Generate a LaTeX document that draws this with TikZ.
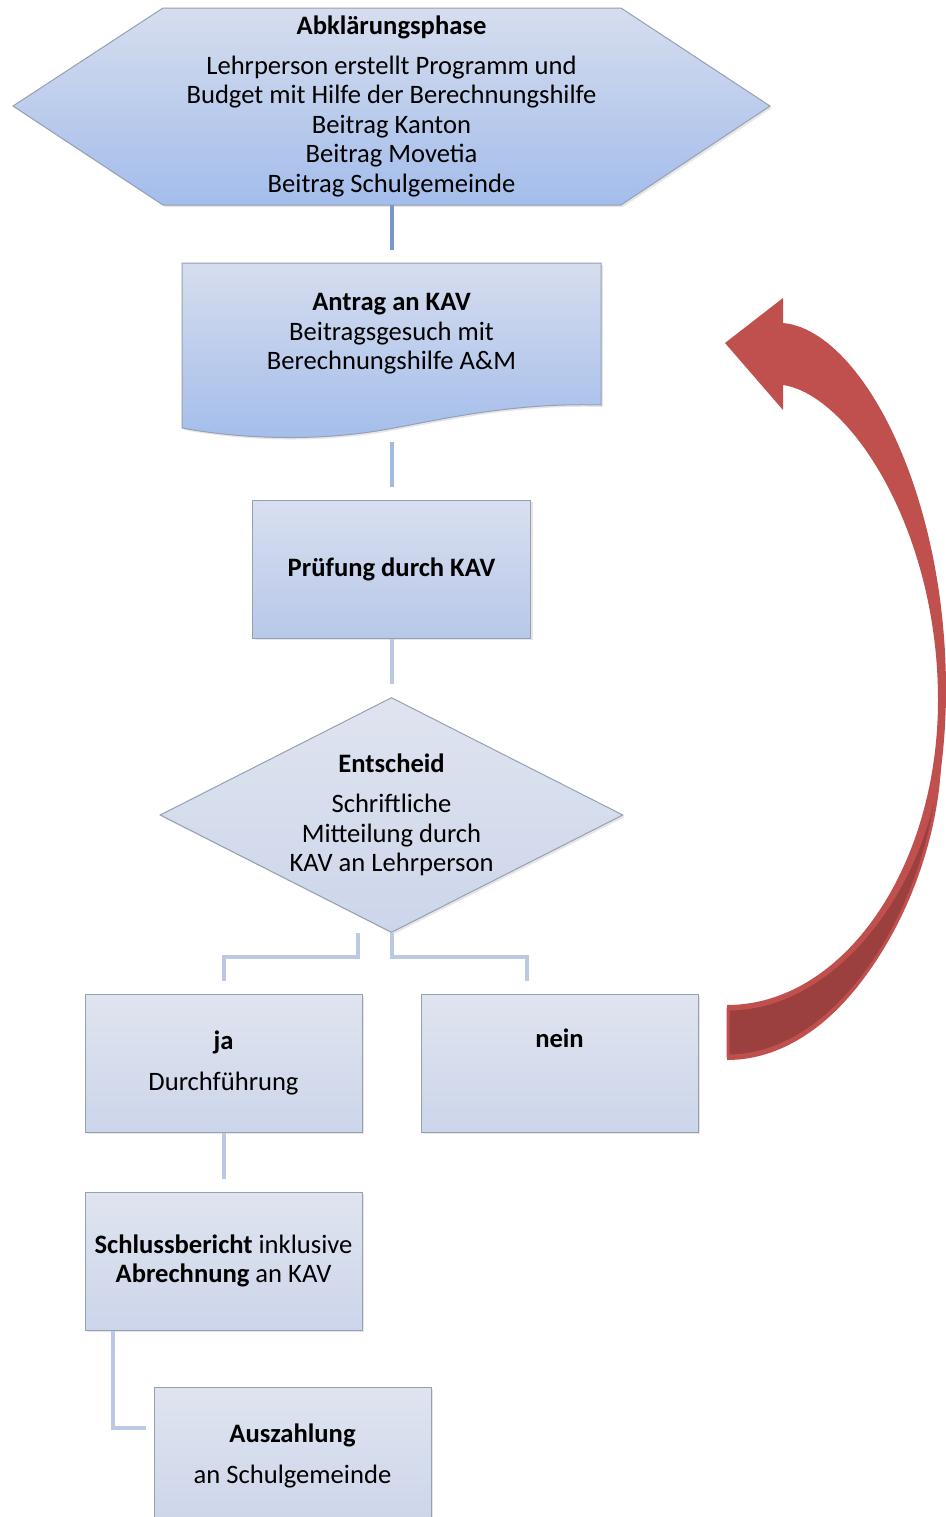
\documentclass[tikz,border=0pt]{standalone}
\usepackage{fontspec}
\setmainfont{Carlito}
\usetikzlibrary{positioning,shapes.geometric,shadows}

\definecolor{hexTop}{RGB}{214,221,238}
\definecolor{hexBot}{RGB}{163,189,235}
\definecolor{boxTop}{RGB}{223,228,239}
\definecolor{boxBot}{RGB}{204,213,234}
\definecolor{pruefTop}{RGB}{216,223,239}
\definecolor{pruefBot}{RGB}{184,200,233}
\definecolor{lineGrey}{RGB}{150,160,180}
\definecolor{connA}{RGB}{121,151,201}
\definecolor{connB}{RGB}{165,185,225}
\definecolor{connC}{RGB}{188,201,227}
\definecolor{arrowRed}{RGB}{192,80,77}
\definecolor{arrowDark}{RGB}{155,64,62}

\begin{document}
\begin{tikzpicture}[x=0.5pt,y=-0.5pt,node distance=29pt,
    font=\fontsize{13.3}{14.75}\selectfont,
    frame/.style={draw=lineGrey,line width=0.5pt,
      drop shadow={shadow xshift=1pt,shadow yshift=-1pt,opacity=.2}},
    txt/.style={align=center,inner sep=0pt},
    stepbox/.style={rectangle,frame,top color=boxTop,bottom color=boxBot,
      minimum width=138.5pt,minimum height=69pt,align=center},
    conn/.style={draw=connC,line width=2pt,shorten >=6.5pt}]

    \useasboundingbox (0,0) rectangle (946,1517);

    \path[frame,top color=hexTop,bottom color=hexBot]
        (13,106) -- (163,8) -- (621,8) -- (770,106) -- (621,205) -- (163,205) -- cycle;
    \node[txt,minimum width=229pt,minimum height=98.5pt] (abkl) at (391.5,106)
        {\textbf{Abklärungsphase}\\[5.25pt]Lehrperson erstellt Programm und\\
         Budget mit Hilfe der Berechnungshilfe\\Beitrag Kanton\\Beitrag Movetia\\
         Beitrag Schulgemeinde};

    \path[frame,top color=hexTop,bottom color=hexBot]
        (182,263) -- (601,263) -- (601,405)
        .. controls (500,402) and (420,425) .. (370,432)
        .. controls (300,442) and (230,437) .. (182,428) -- cycle;
    \node[txt,minimum width=209.5pt,minimum height=71pt] (antrag) at (391.5,334)
        {\textbf{Antrag an KAV}\\Beitragsgesuch mit\\Berechnungshilfe A\&M};

    \node[stepbox,top color=pruefTop,bottom color=pruefBot,minimum width=139pt]
        (pruef) at (391.5,569) {\textbf{Prüfung durch KAV}};

    \node[diamond,aspect=2,frame,top color=boxTop,bottom color=boxBot,inner sep=0pt,
        minimum width=231.5pt,minimum height=117.5pt,align=center]
        (entsch) at (391.5,815)
        {\textbf{Entscheid}\\[5.25pt]Schriftliche\\Mitteilung durch\\KAV an Lehrperson};

    \node[stepbox] (ja) at (223.5,1063) {\textbf{ja}\\[5.75pt]Durchführung};
    \node[stepbox,right=29pt of ja] (nein) {\textbf{nein}\\[5.75pt]\strut};
    \node[stepbox,below=29.5pt of ja] (schluss)
        {\textbf{Schlussbericht} inklusive\\\textbf{Abrechnung} an KAV};
    \node[stepbox] (ausz) at (292.5,1456) {\textbf{Auszahlung}\\[5.75pt]an Schulgemeinde};

    \path[conn,draw=connA] (abkl) edge (antrag);
    \path[conn,draw=connB,shorten <=18.5pt] (antrag) edge (pruef);
    \path[conn] (pruef) edge (entsch);
    \draw[conn] ([xshift=-16.75pt]entsch.south) -- ++(0,24) -| (ja.north);
    \draw[conn] (entsch.south) -- ++(0,24) -| ([xshift=-16.25pt]nein.north);
    \path[conn] (ja) edge (schluss);
    \draw[conn,shorten >=4pt] ([xshift=-55.25pt]schluss.south) |- ([yshift=14pt]ausz.west);

    \fill[arrowRed] (725,343) -- (783,298) -- (783,323)
        .. controls (860,330) and (946,490) .. (946,690)
        .. controls (946,894) and (847,1060) .. (727,1060) -- (727,1005)
        .. controls (843,1005) and (938,868) .. (938,700)
        .. controls (938,530) and (850,395) .. (783,385) -- (783,410) -- cycle;
    \filldraw[fill=arrowDark,draw=arrowRed,line width=1.5pt]
        (728,1009) .. controls (843,1009) and (936,870) .. (940,745)
        .. controls (942,880) and (850,1056) .. (728,1056) -- cycle;
\end{tikzpicture}
\end{document}
